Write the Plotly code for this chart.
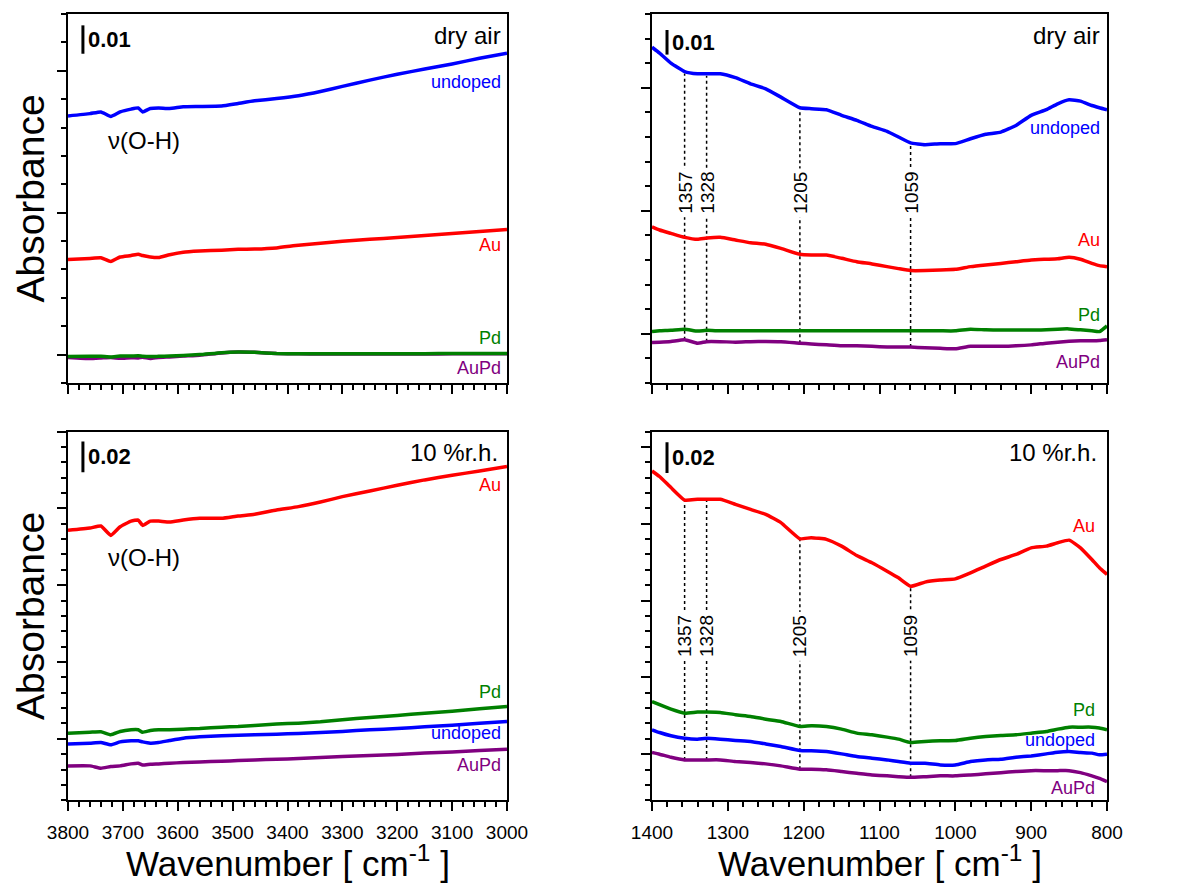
import numpy as np
import plotly.graph_objects as go

# ---------------- data ----------------
# O-H region (left panels), wavenumber grid
wn_oh = [3800, 3760, 3740, 3722, 3705, 3685, 3672, 3664, 3650, 3635, 3615, 3590, 3560,
         3520, 3490, 3460, 3420, 3380, 3340, 3300, 3250, 3200, 3150, 3100, 3050, 3000]

# dry air, O-H region
dry_oh_undoped = [0.0841, 0.0849, 0.0855, 0.0839, 0.0855, 0.0865, 0.0869, 0.0855, 0.0867, 0.0869,
                  0.0867, 0.0873, 0.0874, 0.0876, 0.0885, 0.0894, 0.0902, 0.0912, 0.0927, 0.0945,
                  0.0967, 0.0988, 0.1006, 0.1024, 0.1044, 0.1062]
dry_oh_au = [0.0335, 0.0339, 0.0341, 0.0328, 0.0344, 0.0349, 0.0354, 0.0349, 0.0344, 0.0342,
             0.0352, 0.0361, 0.0365, 0.0368, 0.0371, 0.0372, 0.0376, 0.0385, 0.0392, 0.0399,
             0.0406, 0.0413, 0.0420, 0.0427, 0.0434, 0.0441]
dry_oh_pd = [-0.0007, -0.0006, -0.0006, -0.0008, -0.0005, -0.0005, -0.0004, -0.0006, -0.0007, -0.0006,
             -0.0005, -0.0003, 0.0000, 0.0007, 0.0009, 0.0008, 0.0004, 0.0003, 0.0003, 0.0003,
             0.0003, 0.0003, 0.0003, 0.0004, 0.0004, 0.0004]
dry_oh_aupd = [-0.0010, -0.0014, -0.0012, -0.0010, -0.0013, -0.0011, -0.0012, -0.0009, -0.0014, -0.0010,
               -0.0008, -0.0005, -0.0002, 0.0006, 0.0009, 0.0008, 0.0004, 0.0003, 0.0002, 0.0002,
               0.0002, 0.0002, 0.0002, 0.0003, 0.0003, 0.0003]

# 10 %r.h., O-H region
rh_oh_au = [0.1357, 0.1372, 0.1385, 0.1324, 0.1380, 0.1417, 0.1424, 0.1389, 0.1417, 0.1417,
            0.1411, 0.1424, 0.1435, 0.1435, 0.1450, 0.1461, 0.1489, 0.1511, 0.1541, 0.1576,
            0.1613, 0.1650, 0.1685, 0.1715, 0.1743, 0.1772]
rh_oh_pd = [0.0037, 0.0043, 0.0046, 0.0026, 0.0048, 0.0059, 0.0059, 0.0043, 0.0054, 0.0059,
            0.0059, 0.0063, 0.0067, 0.0076, 0.0080, 0.0087, 0.0096, 0.0102, 0.0111, 0.0124,
            0.0139, 0.0152, 0.0167, 0.0180, 0.0196, 0.0211]
rh_oh_undoped = [-0.0033, -0.0028, -0.0024, -0.0039, -0.0020, -0.0013, -0.0013, -0.0020, -0.0028, -0.0024,
                 -0.0011, 0.0004, 0.0013, 0.0020, 0.0024, 0.0026, 0.0030, 0.0035, 0.0041, 0.0048,
                 0.0059, 0.0067, 0.0078, 0.0089, 0.0102, 0.0113]
rh_oh_aupd = [-0.0176, -0.0176, -0.0191, -0.0180, -0.0176, -0.0163, -0.0159, -0.0170, -0.0165, -0.0163,
              -0.0159, -0.0154, -0.0150, -0.0146, -0.0141, -0.0137, -0.0133, -0.0128, -0.0122, -0.0115,
              -0.0109, -0.0102, -0.0093, -0.0085, -0.0076, -0.0067]

# fingerprint region (right panels), wavenumber grid
wn_fp = [1400, 1390, 1375, 1357, 1340, 1328, 1310, 1290, 1270, 1250, 1230, 1205, 1190, 1170, 1150,
         1130, 1110, 1090, 1075, 1059, 1040, 1020, 1000, 980, 960, 940, 920, 900, 880, 865,
         850, 835, 820, 810, 800]

dry_fp_undoped = [0.1165, 0.1141, 0.1100, 0.1066, 0.1057, 0.1057, 0.1057, 0.1041, 0.1016, 0.0996,
                  0.0962, 0.0919, 0.0915, 0.0911, 0.0888, 0.0868, 0.0843, 0.0823, 0.0800, 0.0776,
                  0.0769, 0.0773, 0.0773, 0.0793, 0.0811, 0.0820, 0.0847, 0.0888, 0.0911, 0.0935,
                  0.0951, 0.0946, 0.0928, 0.0919, 0.0911]
dry_fp_au = [0.0435, 0.0422, 0.0408, 0.0392, 0.0384, 0.0389, 0.0392, 0.0381, 0.0370, 0.0364,
             0.0347, 0.0323, 0.0320, 0.0320, 0.0307, 0.0293, 0.0284, 0.0273, 0.0265, 0.0257,
             0.0257, 0.0259, 0.0262, 0.0273, 0.0280, 0.0286, 0.0293, 0.0300, 0.0303, 0.0305,
             0.0311, 0.0303, 0.0286, 0.0277, 0.0273]
dry_fp_pd = [0.0009, 0.0012, 0.0014, 0.0019, 0.0011, 0.0014, 0.0012, 0.0012, 0.0012, 0.0012,
             0.0012, 0.0012, 0.0012, 0.0012, 0.0012, 0.0012, 0.0012, 0.0012, 0.0012, 0.0012,
             0.0012, 0.0012, 0.0012, 0.0019, 0.0016, 0.0015, 0.0015, 0.0015, 0.0016, 0.0019,
             0.0020, 0.0016, 0.0012, 0.0009, 0.0032]
dry_fp_aupd = [-0.0035, -0.0034, -0.0031, -0.0024, -0.0038, -0.0032, -0.0032, -0.0034, -0.0032, -0.0031,
               -0.0032, -0.0038, -0.0041, -0.0045, -0.0049, -0.0049, -0.0051, -0.0054, -0.0054, -0.0054,
               -0.0057, -0.0059, -0.0061, -0.0051, -0.0051, -0.0051, -0.0049, -0.0045, -0.0038, -0.0034,
               -0.0030, -0.0028, -0.0028, -0.0027, -0.0024]

rh_fp_au = [0.1843, 0.1807, 0.1735, 0.1654, 0.1659, 0.1659, 0.1659, 0.1626, 0.1593, 0.1561,
            0.1507, 0.1402, 0.1409, 0.1398, 0.1354, 0.1293, 0.1246, 0.1191, 0.1148, 0.1093,
            0.1120, 0.1133, 0.1141, 0.1180, 0.1224, 0.1267, 0.1300, 0.1343, 0.1354, 0.1376,
            0.1393, 0.1343, 0.1267, 0.1213, 0.1170]
rh_fp_pd = [0.0343, 0.0322, 0.0293, 0.0267, 0.0274, 0.0274, 0.0272, 0.0257, 0.0246, 0.0228,
            0.0213, 0.0180, 0.0185, 0.0180, 0.0163, 0.0137, 0.0126, 0.0111, 0.0098, 0.0076,
            0.0083, 0.0087, 0.0089, 0.0104, 0.0115, 0.0122, 0.0126, 0.0137, 0.0148, 0.0163,
            0.0176, 0.0176, 0.0176, 0.0170, 0.0159]
rh_fp_undoped = [0.0159, 0.0141, 0.0120, 0.0104, 0.0098, 0.0104, 0.0098, 0.0089, 0.0083, 0.0067,
                 0.0050, 0.0024, 0.0022, 0.0017, 0.0002, -0.0015, -0.0026, -0.0037, -0.0048, -0.0059,
                 -0.0059, -0.0070, -0.0070, -0.0048, -0.0037, -0.0033, -0.0020, -0.0011, 0.0002, 0.0013,
                 0.0017, 0.0011, 0.0007, -0.0004, 0.0000]
rh_fp_aupd = [0.0011, 0.0000, -0.0020, -0.0037, -0.0037, -0.0037, -0.0037, -0.0048, -0.0054, -0.0063,
              -0.0076, -0.0098, -0.0098, -0.0102, -0.0113, -0.0124, -0.0135, -0.0141, -0.0146, -0.0150,
              -0.0146, -0.0141, -0.0141, -0.0135, -0.0128, -0.0120, -0.0113, -0.0107, -0.0107, -0.0107,
              -0.0107, -0.0120, -0.0141, -0.0157, -0.0178]

peaks = [1357, 1328, 1205, 1059]
peak_labels = ["1357", "1328", "1205", "1059"]

series_names = ["undoped", "Au", "Pd", "AuPd"]
colors = {"undoped": "#0000FF", "Au": "#FF0000", "Pd": "#008000", "AuPd": "#800080"}

FONT = "Arial, Liberation Sans, sans-serif"

# ---------------- figure ----------------
W, H = 1197, 884
OFF = 8  # page body margin offset
fig = go.Figure()

def px_x(a, b):
    return [(a - OFF) / W, (b - OFF) / W]

def px_y(top, bottom):
    return [1 - (bottom - OFF) / H, 1 - (top - OFF) / H]

xdom_left = px_x(68, 507)
xdom_right = px_x(652, 1107)
ydom_top = px_y(14, 383)
ydom_bot = px_y(431.5, 800.3)

panels = [
    ("", xdom_left, ydom_top, [3800, 3000], [-0.01, 0.12], wn_oh,
     {"undoped": dry_oh_undoped, "Au": dry_oh_au, "AuPd": dry_oh_aupd, "Pd": dry_oh_pd}, False, True),
    ("2", xdom_right, ydom_top, [1400, 800], [-0.02, 0.13], wn_fp,
     {"undoped": dry_fp_undoped, "Au": dry_fp_au, "AuPd": dry_fp_aupd, "Pd": dry_fp_pd}, False, False),
    ("3", xdom_left, ydom_bot, [3800, 3000], [-0.04, 0.20], wn_oh,
     {"Au": rh_oh_au, "AuPd": rh_oh_aupd, "undoped": rh_oh_undoped, "Pd": rh_oh_pd}, True, True),
    ("4", xdom_right, ydom_bot, [1400, 800], [-0.03, 0.21], wn_fp,
     {"Au": rh_fp_au, "AuPd": rh_fp_aupd, "undoped": rh_fp_undoped, "Pd": rh_fp_pd}, True, False),
]

axis_common = dict(
    showline=True, linecolor="black", linewidth=2, mirror=True,
    ticks="outside", ticklen=9, tickwidth=2, tickcolor="black",
    showgrid=False, zeroline=False, automargin=False,
)

for suf, xd, yd, xr, yr, wn, data, showx, showytitle in panels:
    xa = "x" + suf
    ya = "y" + suf
    for name, vals in data.items():
        fig.add_trace(go.Scatter(
            x=wn, y=vals, mode="lines", name=name, showlegend=False,
            line=dict(color=colors[name], width=3.5, shape="spline", smoothing=0.4),
            xaxis=xa, yaxis=ya,
        ))
    fig.layout["xaxis" + suf] = dict(
        axis_common, domain=xd, range=xr, anchor=ya,
        dtick=100, tick0=0, showticklabels=showx,
        tickfont=dict(family=FONT, size=19, color="black"),
        ticklabelstandoff=5,
        minor=dict(ticks="outside", ticklen=5, tickwidth=1.5, tickcolor="black", dtick=20, tick0=0),
    )
    ydict = dict(
        axis_common, domain=yd, range=yr, anchor=xa,
        dtick=0.05, tick0=0, showticklabels=False,
        minor=dict(ticks="outside", ticklen=5, tickwidth=1.5, tickcolor="black", dtick=0.01, tick0=0),
    )
    if showytitle:
        ydict["title"] = dict(text="Absorbance", standoff=0,
                              font=dict(family=FONT, size=39, color="black"))
    fig.layout["yaxis" + suf] = ydict

shapes = []
annotations = []

# scale bars
scalebars = [
    ("", 0.034, 0.106, 0.01, "0.01"),
    ("2", 0.033, 0.1135, 0.01, "0.01"),
    ("3", 0.034, 0.1735, 0.02, "0.02"),
    ("4", 0.033, 0.183, 0.02, "0.02"),
]
for suf, xd, y0, h, label in scalebars:
    shapes.append(dict(type="line", xref=("x" + suf + " domain"), yref="y" + suf,
                       x0=xd, x1=xd, y0=y0, y1=y0 + h,
                       line=dict(color="black", width=3)))
    annotations.append(dict(xref=("x" + suf + " domain"), yref="y" + suf,
                            x=xd + 0.007, y=y0 + h / 2, xanchor="left", yanchor="middle",
                            text="<b>" + label + "</b>", showarrow=False,
                            font=dict(family=FONT, size=22, color="black")))

# condition labels
for suf, xd, text in [("", 0.991, "dry air"), ("2", 0.989, "dry air"),
                      ("3", 0.985, "10 %r.h."), ("4", 0.982, "10 %r.h.")]:
    annotations.append(dict(xref="x" + suf + " domain", yref="y" + suf + " domain",
                            x=xd, y=0.943, xanchor="right", yanchor="middle",
                            text=text, showarrow=False,
                            font=dict(family=FONT, size=24, color="black")))

# nu(O-H)
for suf in ["", "3"]:
    annotations.append(dict(xref="x" + suf + " domain", yref="y" + suf + " domain",
                            x=0.173, y=0.658, xanchor="center", yanchor="middle",
                            text="ν(O-H)", showarrow=False,
                            font=dict(family=FONT, size=24, color="black")))

# curve labels
curve_label_pos = {
    "": (0.990, {"undoped": 0.096, "Au": 0.0385, "Pd": 0.006, "AuPd": -0.0046}),
    "2": (0.989, {"undoped": 0.0835, "Au": 0.0381, "Pd": 0.0077, "AuPd": -0.0113}),
    "3": (0.990, {"Au": 0.1655, "Pd": 0.0308, "undoped": 0.0039, "AuPd": -0.0169}),
    "4": (0.978, {"Au": 0.1483, "Pd": 0.0289, "undoped": 0.0093, "AuPd": -0.0220}),
}
for suf, (xd, ys) in curve_label_pos.items():
    for name, yv in ys.items():
        annotations.append(dict(xref="x" + suf + " domain", yref="y" + suf,
                                x=xd, y=yv, xanchor="right", yanchor="middle",
                                text=name, showarrow=False,
                                font=dict(family=FONT, size=18, color=colors[name])))

# peak marker lines + labels
wn_fp_inc = np.array(wn_fp[::-1], dtype=float)
def interp(vals, x):
    return float(np.interp(x, wn_fp_inc, np.array(vals[::-1], dtype=float)))

for suf, top_series, bot_series, label_y in [("2", dry_fp_undoped, dry_fp_aupd, 0.0572),
                                              ("4", rh_fp_au, rh_fp_aupd, 0.0766)]:
    for p, lab in zip(peaks, peak_labels):
        shapes.append(dict(type="line", xref="x" + suf, yref="y" + suf,
                           x0=p, x1=p, y0=interp(bot_series, p), y1=interp(top_series, p) - 0.0008,
                           line=dict(color="black", width=1.5, dash="dot"), layer="below"))
        annotations.append(dict(xref="x" + suf, yref="y" + suf, x=p, y=label_y,
                                text=lab, textangle=-90, showarrow=False,
                                xanchor="center", yanchor="middle",
                                bgcolor="white", borderpad=3,
                                font=dict(family=FONT, size=19, color="black")))

# x axis titles
for xc in [(68 + 507) / 2, (652 + 1107) / 2]:
    annotations.append(dict(xref="paper", yref="paper", x=(xc - OFF) / W, y=1 - (861 - OFF) / H,
                            xanchor="center", yanchor="middle",
                            text="Wavenumber [ cm<sup>-1</sup> ]", showarrow=False,
                            font=dict(family=FONT, size=35, color="black")))

fig.update_layout(
    width=W, height=H, autosize=False,
    margin=dict(l=0, r=0, t=0, b=0, pad=0),
    paper_bgcolor="white", plot_bgcolor="white",
    shapes=shapes, annotations=annotations,
    font=dict(family=FONT, color="black"),
)

fig.write_html("out.html")
